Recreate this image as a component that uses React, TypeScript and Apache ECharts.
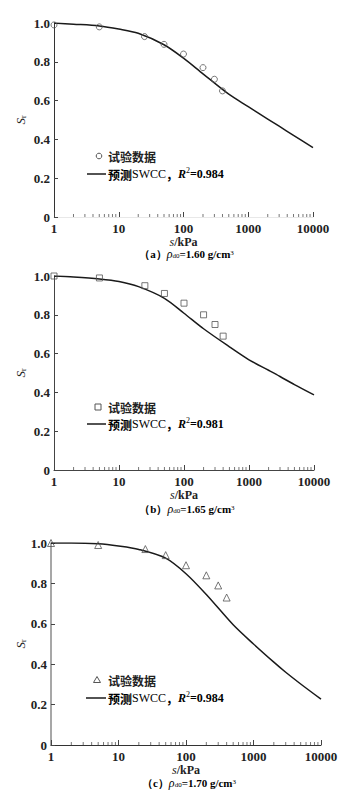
import React, { useEffect, useRef } from "react";
import * as echarts from "echarts";

// ---------- data ----------
const S_TEST = [1, 5, 25, 50, 100, 200, 300, 400];
const SR_A = [0.99, 0.98, 0.93, 0.89, 0.84, 0.77, 0.71, 0.65];
const SR_B = [1.0, 0.99, 0.95, 0.91, 0.86, 0.8, 0.75, 0.69];
const SR_C = [1.0, 0.99, 0.97, 0.94, 0.89, 0.84, 0.79, 0.73];

const S_FIT = [1, 2, 5, 10, 20, 50, 100, 200, 500, 1000, 2000, 3000, 5000, 10000];
const FIT_A = [1.0, 0.994, 0.985, 0.969, 0.947, 0.888, 0.819, 0.738, 0.633, 0.569, 0.505, 0.468, 0.421, 0.357];
const FIT_B = [1.0, 0.995, 0.985, 0.972, 0.945, 0.885, 0.808, 0.728, 0.635, 0.568, 0.514, 0.482, 0.44, 0.387];
const FIT_C = [1.0, 1.0, 0.996, 0.985, 0.968, 0.925, 0.848, 0.745, 0.595, 0.5, 0.41, 0.36, 0.302, 0.227];

const MINOR_TICKS = [2, 3, 4, 5, 6, 7, 8, 9, 20, 30, 40, 50, 60, 70, 80, 90, 200, 300, 400, 500, 600, 700, 800, 900, 2000, 3000, 4000, 5000, 6000, 7000, 8000, 9000];

const R2 = ["0.984", "0.981", "0.984"];
const RHO = ["1.60", "1.65", "1.70"];
const PANEL = ["a", "b", "c"];
const SYMBOLS = ["circle", "rect", "triangle"];
const TEST_NAME = "试验数据";

// ---------- layout ----------
const GRIDS = [
  { left: 54, top: 23, width: 259, height: 194 },
  { left: 54, top: 276, width: 260, height: 194 },
  { left: 51, top: 543, width: 270, height: 202 },
];
const LEGEND_POS = [
  { mx: 99, my: 156, ly: 174, lx0: 87 },
  { mx: 98, my: 407, ly: 424, lx0: 87 },
  { mx: 97, my: 680, ly: 698, lx0: 86 },
];
const CAPTION_Y = [254, 509, 783];
const Y_AXIS_COLOR = ["#333", "#444", "#8a8a8a"];
const X_AXIS_COLOR = ["#e8e8e8", "#444", "#333"];

const SERIF = "Liberation Serif";
const CJK = "Noto Sans CJK SC";
const TXT = "#222";

export default function App() {
  const ref = useRef<HTMLDivElement>(null);

  useEffect(() => {
    if (!ref.current) return;
    const chart = echarts.init(ref.current, undefined, { renderer: "svg" });

    const grid: any[] = [];
    const xAxis: any[] = [];
    const yAxis: any[] = [];
    const series: any[] = [];
    const graphic: any[] = [];
    const tests = [SR_A, SR_B, SR_C];
    const fits = [FIT_A, FIT_B, FIT_C];

    for (let i = 0; i < 3; i++) {
      const g = GRIDS[i];
      grid.push({ ...g, containLabel: false, outerBoundsMode: "none" });
      xAxis.push({
        type: "log",
        logBase: 10,
        gridIndex: i,
        min: 1,
        max: 10000,
        name: "{i|s}{n|/kPa}",
        nameLocation: "middle",
        nameGap: 12,
        nameTextStyle: {
          rich: {
            i: { fontFamily: SERIF, fontStyle: "italic", fontSize: 12, color: TXT, lineHeight: 11 },
            n: { fontFamily: SERIF, fontWeight: "bold", fontSize: 12, color: TXT, lineHeight: 11 },
          },
        },
        axisLine: { show: true, lineStyle: { color: X_AXIS_COLOR[i], width: 1 } },
        axisTick: { show: true, inside: true, length: 5, lineStyle: { color: "#444" } },
        splitLine: { show: false },
        axisLabel: {
          margin: 5,
          fontFamily: SERIF,
          fontWeight: "bold",
          fontSize: 13,
          color: TXT,
          formatter: (v: number) => String(Math.round(v)),
        },
      });
      yAxis.push({
        type: "value",
        gridIndex: i,
        min: 0,
        max: 1,
        interval: 0.2,
        name: "{i|S}{s|r}",
        nameLocation: "middle",
        nameRotate: 90,
        nameMoveOverlap: false,
        nameGap: i === 2 ? 24 : 27,
        nameTextStyle: {
          rich: {
            i: { fontFamily: SERIF, fontStyle: "italic", fontSize: 13, color: TXT, lineHeight: 14 },
            s: { fontFamily: SERIF, fontSize: 8, color: TXT, lineHeight: 8, verticalAlign: "bottom" },
          },
        },
        axisLine: { show: true, lineStyle: { color: Y_AXIS_COLOR[i], width: i === 2 ? 1.5 : 1 } },
        axisTick: { show: true, inside: true, length: 4, lineStyle: { color: "#444" } },
        splitLine: { show: false },
        axisLabel: {
          margin: 4,
          fontFamily: SERIF,
          fontWeight: "bold",
          fontSize: 13,
          color: TXT,
          formatter: (v: number) => (v === 0 ? "0" : v.toFixed(1)),
        },
      });

      // minor ticks
      series.push({
        type: "scatter",
        xAxisIndex: i,
        yAxisIndex: i,
        silent: true,
        clip: false,
        symbol: "rect",
        symbolSize: [1, 3],
        symbolOffset: [0, -1.5],
        itemStyle: { color: "#555" },
        data: MINOR_TICKS.map((t) => [t, 0]),
        z: 1,
      });
      // fitted curve
      series.push({
        type: "line",
        name: "预测SWCC",
        xAxisIndex: i,
        yAxisIndex: i,
        smooth: 0.3,
        showSymbol: false,
        symbol: "none",
        lineStyle: { color: "#1a1a1a", width: 1.5 },
        data: S_FIT.map((s, k) => [s, fits[i][k]]),
        z: 2,
      });
      // test data
      series.push({
        type: "scatter",
        name: TEST_NAME,
        xAxisIndex: i,
        yAxisIndex: i,
        clip: false,
        symbol: SYMBOLS[i],
        symbolSize: i === 2 ? 7 : 6,
        itemStyle: { color: "rgba(255,255,255,0)", borderColor: "#555", borderWidth: 1 },
        data: S_TEST.map((s, k) => [s, tests[i][k]]),
        z: 3,
      });

      // legend (drawn)
      const L = LEGEND_POS[i];
      const mk = { fill: "none", stroke: "#555", lineWidth: 1 };
      if (i === 0) {
        graphic.push({ type: "circle", shape: { cx: L.mx, cy: L.my, r: 2.8 }, style: mk });
      } else if (i === 1) {
        graphic.push({ type: "rect", shape: { x: L.mx - 3, y: L.my - 3, width: 6, height: 6 }, style: mk });
      } else {
        graphic.push({
          type: "polygon",
          shape: { points: [[L.mx, L.my - 3.5], [L.mx - 3.5, L.my + 2.5], [L.mx + 3.5, L.my + 2.5]] },
          style: mk,
        });
      }
      graphic.push({
        type: "text",
        style: {
          x: 108,
          y: L.my,
          text: TEST_NAME,
          textVerticalAlign: "middle",
          font: `bold 12px "${CJK}"`,
          fill: TXT,
        },
      });
      graphic.push({
        type: "line",
        shape: { x1: L.lx0, y1: L.ly, x2: 106, y2: L.ly },
        style: { stroke: "#1a1a1a", lineWidth: 1.5 },
      });
      graphic.push({
        type: "text",
        style: {
          x: 108,
          y: L.ly,
          text: `{cn|预测}{en|SWCC}{cn|，}{r|R}{sup|2}{v|=${R2[i]}}`,
          textVerticalAlign: "middle",
          rich: {
            cn: { fontFamily: CJK, fontWeight: "bold", fontSize: 12, color: TXT, lineHeight: 16 },
            en: { fontFamily: SERIF, fontSize: 12, color: TXT, lineHeight: 16 },
            r: { fontFamily: SERIF, fontStyle: "italic", fontWeight: "bold", fontSize: 12, color: TXT, lineHeight: 16 },
            sup: { fontFamily: SERIF, fontSize: 8, color: TXT, lineHeight: 10, verticalAlign: "top" },
            v: { fontFamily: SERIF, fontWeight: "bold", fontSize: 12, color: TXT, lineHeight: 16 },
          },
        },
      });

      // caption
      graphic.push({
        type: "text",
        style: {
          x: g.left + g.width / 2 + 3,
          y: CAPTION_Y[i],
          text: `{p|（${PANEL[i]}）}{rho|ρ}{sub|d0}{n|=${RHO[i]} g/cm}{sup|3}`,
          textAlign: "center",
          textVerticalAlign: "middle",
          rich: {
            p: { fontFamily: SERIF, fontWeight: "bold", fontSize: 11, color: TXT, lineHeight: 10 },
            rho: { fontFamily: SERIF, fontStyle: "italic", fontSize: 12, color: TXT, lineHeight: 10 },
            sub: { fontFamily: SERIF, fontSize: 7, color: TXT, lineHeight: 7, verticalAlign: "bottom" },
            n: { fontFamily: SERIF, fontWeight: "bold", fontSize: 11, color: TXT, lineHeight: 10 },
            sup: { fontFamily: SERIF, fontSize: 7, color: TXT, lineHeight: 7, verticalAlign: "top" },
          },
        },
      });
    }

    chart.setOption({
      animation: false,
      backgroundColor: "#fff",
      grid,
      xAxis,
      yAxis,
      series,
      graphic,
    });

    return () => chart.dispose();
  }, []);

  return (
    <div
      ref={ref}
      style={{ position: "fixed", left: 0, top: 0, width: 353, height: 805 }}
    />
  );
}
